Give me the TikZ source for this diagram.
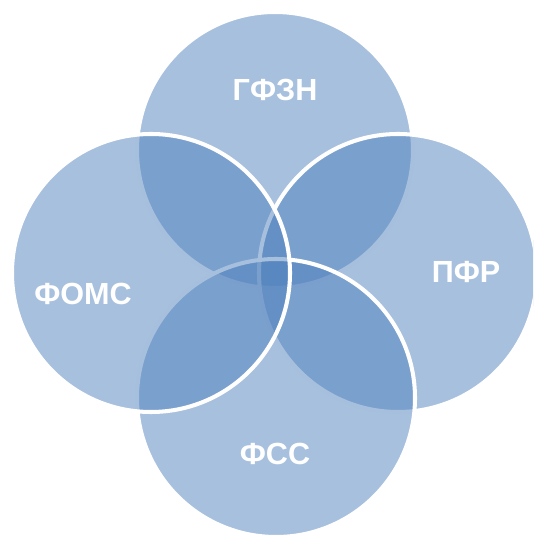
\documentclass[tikz,border=0pt]{standalone}
\usepackage{fontspec}
\setmainfont{Liberation Sans}
\usepackage{tikz}
\usetikzlibrary{positioning}
\definecolor{vennblue}{RGB}{79,129,189}

\tikzset{
  venn/.style = {fill=vennblue, fill opacity=0.5, draw=white, line width=1.15pt},
  fundlabel/.style = {text=white, font=\fontsize{8.7}{10}\selectfont\bfseries, inner sep=0pt}
}

\begin{document}
\begin{tikzpicture}
\useasboundingbox (0,0) rectangle (5.33,5.40);
\clip (0,0) rectangle (5.33,5.40);
% circles, back to front
\draw[venn] (2.75,3.90) circle (1.38);% top
\draw[venn] (3.98,2.67) circle (1.39);% right
\draw[venn] (2.76,1.42) circle (1.39);% bottom
\draw[venn] (1.51,2.67) circle (1.39);% left
% labels
\node[fundlabel] (gfzn) at (2.75,4.50) {ГФЗН};
\node[fundlabel] (pfr) at (4.66,2.68) {ПФР};
\node[fundlabel] (foms) at (0.83,2.46) {ФОМС};
\node[fundlabel] (fss) at (2.75,0.86) {ФСС};
\end{tikzpicture}
\end{document}
